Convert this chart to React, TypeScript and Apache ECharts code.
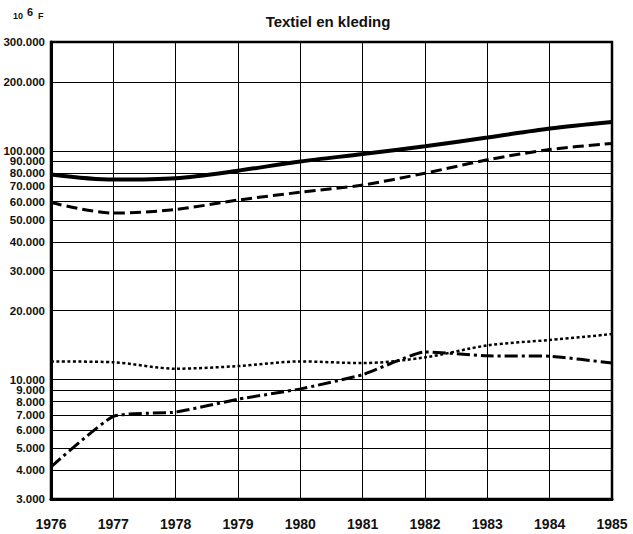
import React, { useEffect, useRef } from "react";
import * as echarts from "echarts";

const years = ["1976", "1977", "1978", "1979", "1980", "1981", "1982", "1983", "1984", "1985"];
const solidSeries = [79000, 75000, 76000, 82000, 90000, 97000, 105000, 114500, 125500, 134000];
const dashedSeries = [59500, 53500, 55500, 61000, 66000, 71000, 80000, 91500, 101500, 108000];
const dottedSeries = [12000, 11900, 11150, 11450, 12000, 11800, 12500, 14100, 14900, 15800];
const dashDotSeries = [4150, 6900, 7200, 8200, 9100, 10500, 13200, 12700, 12650, 11800];
const yTicks = [3000, 4000, 5000, 6000, 7000, 8000, 9000, 10000, 20000, 30000, 40000, 50000, 60000, 70000, 80000, 90000, 100000, 200000, 300000];

const fmt = (v: number) => Math.round(v).toString().replace(/\B(?=(\d{3})+(?!\d))/g, ".");
const FONT = "'Liberation Sans', Arial, sans-serif";

export default function App() {
  const ref = useRef<HTMLDivElement>(null);
  useEffect(() => {
    document.body.style.margin = "0";
    const chart = echarts.init(ref.current!, null, { renderer: "svg" });
    const base = { type: "line", symbol: "none", smooth: 0.3, z: 5 };
    chart.setOption({
      animation: false,
      backgroundColor: "#fff",
      title: {
        text: "Textiel en kleding",
        left: 323,
        top: 9,
        textAlign: "center",
        textStyle: { fontFamily: FONT, fontSize: 15, fontWeight: "bold", color: "#111" },
      },
      graphic: [
        { type: "text", left: 13, top: 11, style: { text: "10", fontFamily: FONT, fontSize: 9, fontWeight: "bold", fill: "#111" } },
        { type: "text", left: 27, top: 6, style: { text: "6", fontFamily: FONT, fontSize: 11, fontWeight: "bold", fill: "#111" } },
        { type: "text", left: 38, top: 11, style: { text: "F", fontFamily: FONT, fontSize: 9, fontWeight: "bold", fill: "#111" } },
      ],
      grid: { left: 51, right: 21, top: 42, bottom: 35, show: true, borderColor: "#000", borderWidth: 2.5, backgroundColor: "transparent" },
      xAxis: {
        type: "category",
        data: years,
        boundaryGap: false,
        axisLine: { show: true, lineStyle: { color: "#000", width: 3 } },
        axisTick: { show: false },
        axisLabel: { fontFamily: FONT, fontSize: 14, fontWeight: "bold", color: "#111", margin: 18 },
        splitLine: { show: true, lineStyle: { color: "#000", width: 1 } },
      },
      yAxis: {
        type: "log",
        min: 3000,
        max: 300000,
        axisLine: { show: true, lineStyle: { color: "#000", width: 3 } },
        axisTick: { show: false, customValues: yTicks },
        axisLabel: { customValues: yTicks, formatter: (v: number) => fmt(v), fontFamily: FONT, fontSize: 11.5, fontWeight: "bold", color: "#111", margin: 6 },
        splitLine: { show: true, lineStyle: { color: "#000", width: 1 } },
      },
      series: [
        { ...base, name: "solid", data: solidSeries, lineStyle: { color: "#000", width: 4 } },
        { ...base, name: "dashed", data: dashedSeries, lineStyle: { color: "#000", width: 3, type: [11, 5] } },
        { ...base, name: "dotted", data: dottedSeries, lineStyle: { color: "#000", width: 2.5, type: [3, 2.5] } },
        { ...base, name: "dashdot", smooth: 0.15, data: dashDotSeries, lineStyle: { color: "#000", width: 3, type: [13, 4, 3, 4] } },
      ],
    });
    return () => chart.dispose();
  }, []);
  return <div ref={ref} style={{ width: 633, height: 534 }} />;
}
